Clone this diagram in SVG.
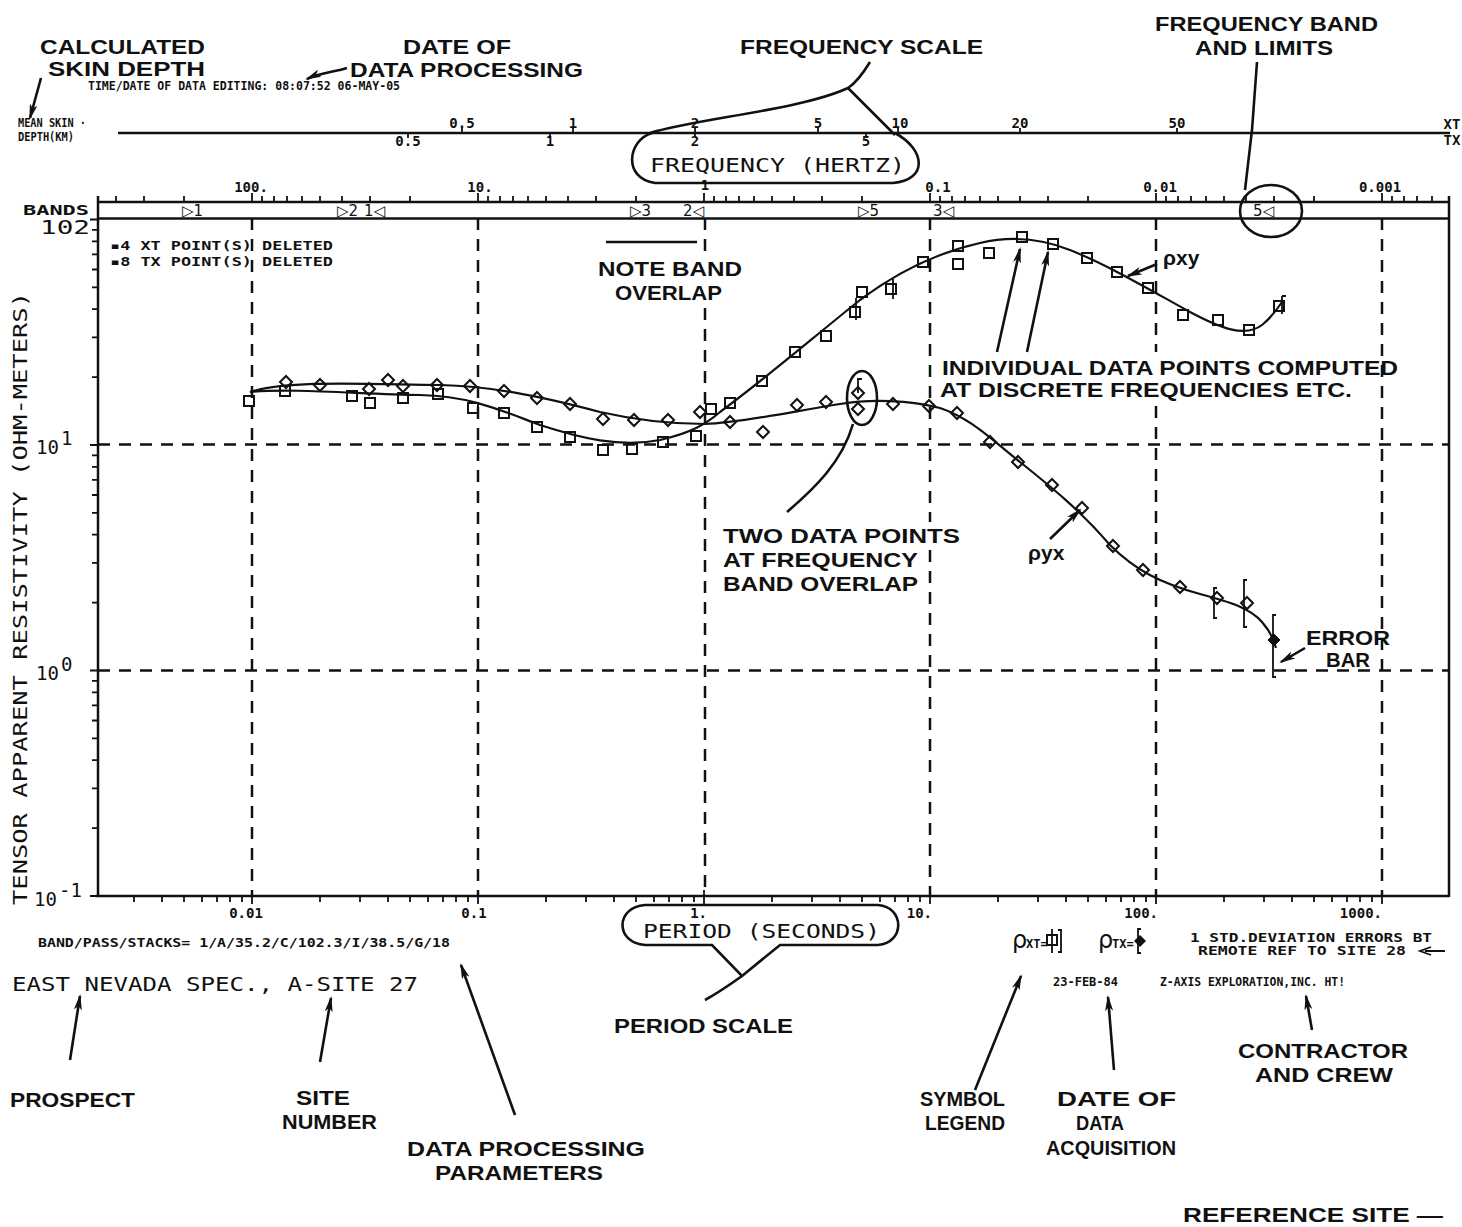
<svg xmlns="http://www.w3.org/2000/svg" width="1462" height="1227" viewBox="0 0 1462 1227">
<style>
.lbl{font-family:"Liberation Sans",Arial,sans-serif;font-weight:bold;font-size:21px;fill:#111}
.plt{font-family:"DejaVu Sans Mono","Liberation Mono",monospace;font-size:19px;fill:#111}
.num{font-family:"DejaVu Sans Mono","Liberation Mono",monospace;font-size:14px;font-weight:bold;fill:#111}
.sm{font-family:"DejaVu Sans Mono","Liberation Mono",monospace;font-size:12px;font-weight:bold;fill:#111}
.axis{stroke:#111;stroke-width:2.5;fill:none}
.tick{stroke:#111;stroke-width:1.8;fill:none}
.grid{stroke:#111;stroke-width:2.5;stroke-dasharray:12 9;fill:none}
.curve{stroke:#111;stroke-width:2.2;fill:none}
.ptr{stroke:#111;stroke-width:2.6;fill:none}
.pt{stroke:#111;stroke-width:2;fill:none}
.mk{font-family:"DejaVu Sans",sans-serif;font-size:15px;fill:#111}
</style>
<defs>
<marker id="ah" markerUnits="userSpaceOnUse" markerWidth="16" markerHeight="8" refX="14" refY="4" orient="auto">
<path d="M0,0 L16,4 L0,8 L4,4 z" fill="#111"/>
</marker>
<rect id="sq" x="-5" y="-5" width="10" height="10"/>
<path id="dm" d="M0,-6 L6,0 L0,6 L-6,0 z"/>
</defs>
<rect width="1462" height="1227" fill="#fff"/>

<g id="frame">
<line class="axis" x1="118" y1="133" x2="1450" y2="133"/>
<line class="axis" x1="98" y1="202" x2="1449" y2="202"/>
<line class="axis" x1="98" y1="218.5" x2="1449" y2="218.5" stroke-width="3"/>
<line class="axis" x1="98" y1="196" x2="98" y2="897"/>
<line class="axis" x1="1449" y1="196" x2="1449" y2="897"/>
<line class="axis" x1="96" y1="896" x2="1449" y2="896"/>
<path class="tick" d="M90,219.5h8M92,229.8h6M92,241.4h6M92,254.4h6M92,269.5h6M92,287.4h6M92,309.2h6M92,337.4h6M92,377.1h6
M90,445h8M92,455.3h6M92,466.9h6M92,479.9h6M92,495h6M92,512.9h6M92,534.7h6M92,562.9h6M92,602.6h6
M90,670.5h8M92,680.8h6M92,692.4h6M92,705.4h6M92,720.5h6M92,738.4h6M92,760.2h6M92,788.4h6M92,828.1h6M90,896h8"/>
<path class="tick" d="M134,896v6M162,896v6M184,896v6M202,896v6M217,896v6M230,896v6M242,896v6M252,890v14
M320,896v6M360,896v6M388,896v6M410,896v6M428,896v6M443,896v6M456,896v6M468,896v6M478,890v14
M546,896v6M586,896v6M614,896v6M636,896v6M654,896v6M669,896v6M682,896v6M694,896v6M704,890v14
M772,896v6M812,896v6M840,896v6M862,896v6M880,896v6M895,896v6M908,896v6M920,896v6M930,890v14
M998,896v6M1038,896v6M1066,896v6M1088,896v6M1106,896v6M1121,896v6M1134,896v6M1146,896v6M1156,890v14
M1224,896v6M1264,896v6M1292,896v6M1314,896v6M1332,896v6M1347,896v6M1360,896v6M1372,896v6M1382,890v14"/>
<path class="tick" d="M116,202v-6M144,202v-6M184,202v-6M252,202v-9
M262,202v-6M274,202v-6M287,202v-6M302,202v-6M320,202v-6M342,202v-6M370,202v-6M410,202v-6M478,202v-9
M488,202v-6M500,202v-6M513,202v-6M528,202v-6M546,202v-6M568,202v-6M596,202v-6M636,202v-6M704,202v-9
M714,202v-6M726,202v-6M739,202v-6M754,202v-6M772,202v-6M794,202v-6M822,202v-6M862,202v-6M930,202v-9
M940,202v-6M952,202v-6M965,202v-6M980,202v-6M998,202v-6M1020,202v-6M1048,202v-6M1088,202v-6M1156,202v-9
M1166,202v-6M1178,202v-6M1191,202v-6M1206,202v-6M1224,202v-6M1246,202v-6M1274,202v-6M1314,202v-6M1382,202v-9
M1392,202v-6M1404,202v-6M1417,202v-6M1432,202v-6"/>
<path class="tick" d="M462,133v-5M573,133v-5M695,133v-5M818,133v-5M898,133v-5M1020,133v-5M1177,133v-5M408,133v5M550,133v5M695,133v5M866,133v5"/>
</g>

<g id="grid">
<path class="grid" d="M252,218V896M478,218V896M705,218V255M705,308V896M930,218V522M930,550V896M1156,218V352M1156,406V896M1382,218V896"/>
<path class="grid" d="M98,444.5H1449M98,670.5H1449"/>
</g>

<g id="axis-labels">
<text class="sm" x="18" y="127" font-size="8" textLength="68" lengthAdjust="spacingAndGlyphs">MEAN SKIN ·</text>
<text class="sm" x="18" y="141" font-size="8" textLength="56" lengthAdjust="spacingAndGlyphs">DEPTH(KM)</text>
<text class="num" x="462" y="128" text-anchor="middle" font-size="12">0.5</text>
<text class="num" x="573" y="128" text-anchor="middle" font-size="12">1</text>
<text class="num" x="695" y="128" text-anchor="middle" font-size="12">2</text>
<text class="num" x="818" y="128" text-anchor="middle" font-size="12">5</text>
<text class="num" x="900" y="128" text-anchor="middle" font-size="12">10</text>
<text class="num" x="1020" y="128" text-anchor="middle" font-size="12">20</text>
<text class="num" x="1177" y="128" text-anchor="middle" font-size="12">50</text>
<text class="num" x="1452" y="129" text-anchor="middle" font-size="10">XT</text>
<text class="num" x="408" y="146" text-anchor="middle" font-size="12">0.5</text>
<text class="num" x="550" y="146" text-anchor="middle" font-size="12">1</text>
<text class="num" x="695" y="146" text-anchor="middle" font-size="12">2</text>
<text class="num" x="866" y="146" text-anchor="middle" font-size="12">5</text>
<text class="num" x="1452" y="145" text-anchor="middle" font-size="10">TX</text>

<text class="num" x="251" y="192" text-anchor="middle">100.</text>
<text class="num" x="480" y="192" text-anchor="middle">10.</text>
<text class="num" x="705" y="190" text-anchor="middle">1</text>
<text class="num" x="938" y="192" text-anchor="middle">0.1</text>
<text class="num" x="1160" y="192" text-anchor="middle">0.01</text>
<text class="num" x="1380" y="192" text-anchor="middle">0.001</text>

<text class="num" x="23" y="215" font-size="14" textLength="66" lengthAdjust="spacingAndGlyphs">BANDS</text>
<text class="plt" x="40" y="234" font-size="19" textLength="50" lengthAdjust="spacingAndGlyphs">102</text>
<text class="plt" x="36" y="454" font-size="20">10</text><text class="plt" x="61" y="445" font-size="13">1</text>
<text class="plt" x="36" y="680" font-size="20">10</text><text class="plt" x="61" y="671" font-size="13">0</text>
<text class="plt" x="34" y="906" font-size="20">10</text><text class="plt" x="59" y="897" font-size="13">-1</text>

<text class="num" x="246" y="918" text-anchor="middle">0.01</text>
<text class="num" x="474" y="918" text-anchor="middle">0.1</text>
<text class="num" x="707" y="918" text-anchor="end">1.</text>
<text class="num" x="932" y="918" text-anchor="end">10.</text>
<text class="num" x="1158" y="918" text-anchor="end">100.</text>
<text class="num" x="1382" y="918" text-anchor="end">1000.</text>

<text class="plt" transform="translate(27,905) rotate(-90)" textLength="613" lengthAdjust="spacingAndGlyphs">TENSOR APPARENT RESISTIVITY (OHM-METERS)</text>
</g>

<g id="bands">
<text class="mk" x="182" y="216">▷1</text>
<text class="mk" x="337" y="216">▷2</text>
<text class="mk" x="364" y="216">1◁</text>
<text class="mk" x="630" y="216">▷3</text>
<text class="mk" x="683" y="216">2◁</text>
<text class="mk" x="858" y="216">▷5</text>
<text class="mk" x="933" y="216">3◁</text>
<text class="mk" x="1253" y="216">5◁</text>
</g>

<g id="deleted-legend">
<text class="sm" x="110" y="250" textLength="223" lengthAdjust="spacingAndGlyphs">▪4  XT POINT(S) DELETED</text>
<text class="sm" x="110" y="266" textLength="223" lengthAdjust="spacingAndGlyphs">▪8  TX POINT(S) DELETED</text>
</g>

<g id="rho-xy-curve">
<path class="curve" d="M250,392 C290,388 360,394 420,395 C470,396 500,410 540,425 C580,438 620,448 660,440 C690,433 705,425 720,412 C770,375 810,340 860,300 C900,270 940,252 980,243 C1010,236 1040,238 1070,250 C1110,266 1150,290 1190,312 C1220,328 1245,338 1262,325 C1272,317 1278,308 1282,302"/>
<g class="pt">
<use href="#sq" x="249" y="401"/><use href="#sq" x="285" y="391"/><use href="#sq" x="352" y="396"/><use href="#sq" x="370" y="403"/>
<use href="#sq" x="403" y="398"/><use href="#sq" x="438" y="394"/><use href="#sq" x="473" y="408"/><use href="#sq" x="504" y="413"/>
<use href="#sq" x="537" y="427"/><use href="#sq" x="570" y="437"/><use href="#sq" x="603" y="450"/><use href="#sq" x="632" y="449"/>
<use href="#sq" x="663" y="442"/><use href="#sq" x="696" y="436"/><use href="#sq" x="711" y="409"/><use href="#sq" x="730" y="403"/>
<use href="#sq" x="762" y="381"/><use href="#sq" x="795" y="352"/><use href="#sq" x="826" y="336"/><use href="#sq" x="855" y="312"/>
<use href="#sq" x="862" y="292"/><use href="#sq" x="891" y="289"/><use href="#sq" x="923" y="262"/><use href="#sq" x="958" y="246"/>
<use href="#sq" x="958" y="264"/><use href="#sq" x="989" y="253"/><use href="#sq" x="1022" y="237"/><use href="#sq" x="1053" y="244"/>
<use href="#sq" x="1087" y="258"/><use href="#sq" x="1117" y="272"/><use href="#sq" x="1148" y="288"/><use href="#sq" x="1183" y="315"/>
<use href="#sq" x="1218" y="320"/><use href="#sq" x="1249" y="330"/><use href="#sq" x="1279" y="306"/>
</g>
<path class="tick" d="M856,298v22M893,279v20M1282,296v18M1282,296h4"/>
</g>

<g id="rho-yx-curve">
<path class="curve" d="M250,392 C290,380 360,384 440,385 C490,386 540,396 600,412 C640,421 680,424 705,424 C740,423 790,412 840,404 C870,399 910,400 940,408 C970,418 990,438 1020,462 C1050,486 1080,510 1110,545 C1135,570 1160,583 1200,594 C1230,602 1250,608 1262,622 C1270,631 1274,640 1276,648"/>
<g class="pt">
<use href="#dm" x="286" y="382"/><use href="#dm" x="320" y="385"/><use href="#dm" x="369" y="389"/><use href="#dm" x="388" y="380"/>
<use href="#dm" x="403" y="386"/><use href="#dm" x="437" y="385"/><use href="#dm" x="470" y="386"/><use href="#dm" x="504" y="391"/>
<use href="#dm" x="537" y="398"/><use href="#dm" x="570" y="404"/><use href="#dm" x="603" y="419"/><use href="#dm" x="634" y="420"/>
<use href="#dm" x="668" y="420"/><use href="#dm" x="700" y="412"/><use href="#dm" x="730" y="422"/><use href="#dm" x="763" y="432"/>
<use href="#dm" x="797" y="405"/><use href="#dm" x="826" y="402"/><use href="#dm" x="858" y="393"/><use href="#dm" x="858" y="409"/>
<use href="#dm" x="893" y="404"/><use href="#dm" x="929" y="406"/><use href="#dm" x="957" y="413"/><use href="#dm" x="990" y="442"/>
<use href="#dm" x="1018" y="462"/><use href="#dm" x="1052" y="485"/><use href="#dm" x="1082" y="508"/><use href="#dm" x="1113" y="546"/>
<use href="#dm" x="1143" y="570"/><use href="#dm" x="1180" y="587"/><use href="#dm" x="1217" y="598"/><use href="#dm" x="1247" y="603"/>
</g>
<use href="#dm" x="1274" y="640" fill="#111" stroke="#111"/>
<path class="tick" d="M858,393v-14h4M1217,588h-3v30h3M1247,580h-3v47h3M1276,615h-3v62h3"/>
</g>

<g id="calculated-skin-depth"><text class="lbl" x="40" y="54" textLength="165" lengthAdjust="spacingAndGlyphs">CALCULATED</text><text class="lbl" x="48" y="76" textLength="157" lengthAdjust="spacingAndGlyphs">SKIN DEPTH</text></g>
<g id="date-of-processing"><text class="lbl" x="403" y="54" textLength="108" lengthAdjust="spacingAndGlyphs">DATE OF</text><text class="lbl" x="350" y="77" textLength="233" lengthAdjust="spacingAndGlyphs">DATA PROCESSING</text>
<text class="sm" x="88" y="90" font-size="11" textLength="312" lengthAdjust="spacingAndGlyphs">TIME/DATE OF DATA EDITING: 08:07:52 06-MAY-05</text></g>
<g id="frequency-scale"><text class="lbl" x="740" y="54" textLength="243" lengthAdjust="spacingAndGlyphs">FREQUENCY SCALE</text></g>
<g id="frequency-band"><text class="lbl" x="1155" y="31" textLength="223" lengthAdjust="spacingAndGlyphs">FREQUENCY BAND</text><text class="lbl" x="1195" y="55" textLength="138" lengthAdjust="spacingAndGlyphs">AND LIMITS</text></g>
<g id="frequency-hertz">
<path class="ptr" d="M652,133 C628,140 622,178 655,183 L893,183 C928,180 926,150 895,133"/>
<text class="plt" x="650" y="172" textLength="255" lengthAdjust="spacingAndGlyphs">FREQUENCY  (HERTZ)</text>
</g>
<g id="band-circle"><ellipse class="ptr" cx="1271" cy="211" rx="31" ry="26"/></g>
<g id="note-band-overlap"><text class="lbl" x="598" y="276" textLength="144" lengthAdjust="spacingAndGlyphs">NOTE BAND</text><text class="lbl" x="615" y="300" textLength="107" lengthAdjust="spacingAndGlyphs">OVERLAP</text>
<line class="ptr" x1="606" y1="242" x2="697" y2="242"/></g>
<g id="individual-points"><text class="lbl" x="942" y="375" textLength="456" lengthAdjust="spacingAndGlyphs">INDIVIDUAL DATA POINTS COMPUTED</text><text class="lbl" x="940" y="397" textLength="412" lengthAdjust="spacingAndGlyphs">AT DISCRETE FREQUENCIES ETC.</text></g>
<g id="rho-xy-label"><text class="lbl" x="1163" y="265">ρxy</text></g>
<g id="rho-yx-label"><text class="lbl" x="1028" y="560">ρyx</text></g>
<g id="two-points"><ellipse class="ptr" cx="862" cy="398" rx="15" ry="27"/>
<text class="lbl" x="723" y="543" textLength="237" lengthAdjust="spacingAndGlyphs">TWO DATA POINTS</text><text class="lbl" x="723" y="567" textLength="195" lengthAdjust="spacingAndGlyphs">AT FREQUENCY</text><text class="lbl" x="723" y="591" textLength="195" lengthAdjust="spacingAndGlyphs">BAND OVERLAP</text></g>
<g id="error-bar"><text class="lbl" x="1306" y="645" textLength="84" lengthAdjust="spacingAndGlyphs">ERROR</text><text class="lbl" x="1326" y="667" textLength="44" lengthAdjust="spacingAndGlyphs">BAR</text></g>

<g id="period-seconds">
<path class="ptr" d="M645,905 L878,905 C905,907 905,943 878,945 L780,945 L742,976 L712,945 L645,945 C615,943 615,907 645,905 Z"/>
<text class="plt" x="643" y="938" textLength="237" lengthAdjust="spacingAndGlyphs">PERIOD   (SECONDS)</text>
</g>
<g id="period-scale"><text class="lbl" x="614" y="1033" textLength="179" lengthAdjust="spacingAndGlyphs">PERIOD SCALE</text></g>

<g id="parameters-line"><text class="sm" x="38" y="947" textLength="412" lengthAdjust="spacingAndGlyphs">BAND/PASS/STACKS= 1/A/35.2/C/102.3/I/38.5/G/18</text></g>
<g id="site-line"><text class="plt" x="12" y="991" font-size="21" textLength="406" lengthAdjust="spacingAndGlyphs">EAST NEVADA SPEC., A-SITE 27</text></g>
<g id="prospect"><text class="lbl" x="10" y="1107" textLength="125" lengthAdjust="spacingAndGlyphs">PROSPECT</text></g>
<g id="site-number"><text class="lbl" x="296" y="1105" textLength="54" lengthAdjust="spacingAndGlyphs">SITE</text><text class="lbl" x="282" y="1129" textLength="95" lengthAdjust="spacingAndGlyphs">NUMBER</text></g>
<g id="data-processing-parameters"><text class="lbl" x="407" y="1156" textLength="238" lengthAdjust="spacingAndGlyphs">DATA PROCESSING</text><text class="lbl" x="435" y="1180" textLength="168" lengthAdjust="spacingAndGlyphs">PARAMETERS</text></g>

<g id="symbol-legend-block">
<text x="1012" y="948" font-family="DejaVu Sans,sans-serif" font-size="24" fill="#111">ρ</text>
<text class="sm" x="1026" y="948" font-size="10">XT=</text>
<rect class="pt" x="1047" y="935" width="10" height="10"/>
<path class="tick" d="M1052,929v24M1058,930h3v22h-3"/>
<text x="1098" y="948" font-family="DejaVu Sans,sans-serif" font-size="24" fill="#111">ρ</text>
<text class="sm" x="1112" y="948" font-size="10">TX=</text>
<path d="M1140,935 L1146,941 L1140,947 L1134,941 z" fill="#111"/>
<path class="tick" d="M1141,929h-3v24h3"/>
<text class="sm" x="1190" y="942" font-size="10.5" textLength="242" lengthAdjust="spacingAndGlyphs">1 STD.DEVIATION ERRORS BT</text>
<text class="sm" x="1198" y="955" font-size="10.5" textLength="208" lengthAdjust="spacingAndGlyphs">REMOTE REF TO SITE 28</text>
<text class="sm" x="1053" y="986" textLength="65" lengthAdjust="spacingAndGlyphs">23-FEB-84</text>
<text class="sm" x="1160" y="986" textLength="185" lengthAdjust="spacingAndGlyphs">Z-AXIS EXPLORATION,INC. HT!</text>
</g>
<g id="symbol-legend"><text class="lbl" x="920" y="1106" textLength="85" lengthAdjust="spacingAndGlyphs">SYMBOL</text><text class="lbl" x="925" y="1130" textLength="80" lengthAdjust="spacingAndGlyphs">LEGEND</text></g>
<g id="date-of-acquisition"><text class="lbl" x="1057" y="1106" textLength="119" lengthAdjust="spacingAndGlyphs">DATE OF</text><text class="lbl" x="1076" y="1130" textLength="48" lengthAdjust="spacingAndGlyphs">DATA</text><text class="lbl" x="1046" y="1155" textLength="130" lengthAdjust="spacingAndGlyphs">ACQUISITION</text></g>
<g id="contractor"><text class="lbl" x="1238" y="1058" textLength="170" lengthAdjust="spacingAndGlyphs">CONTRACTOR</text><text class="lbl" x="1255" y="1082" textLength="138" lengthAdjust="spacingAndGlyphs">AND CREW</text></g>
<g id="reference-site"><text class="lbl" x="1183" y="1222" textLength="260" lengthAdjust="spacingAndGlyphs">REFERENCE SITE —</text></g>

<g id="connectors">
<line class="ptr" x1="41" y1="78" x2="30" y2="118" marker-end="url(#ah)"/>
<path class="ptr" d="M347,68 C335,72 322,72 307,79" marker-end="url(#ah)"/>
<path class="ptr" d="M870,62 C862,75 856,83 848,88 C800,110 700,118 650,133 M848,88 L895,135"/>
<path class="ptr" d="M1257,62 L1252,130 L1245,190"/>
<line class="ptr" x1="1157" y1="264" x2="1128" y2="276" marker-end="url(#ah)"/>
<line class="ptr" x1="1050" y1="539" x2="1080" y2="510" marker-end="url(#ah)"/>
<line class="ptr" x1="997" y1="352" x2="1020" y2="249" marker-end="url(#ah)"/>
<line class="ptr" x1="1027" y1="352" x2="1048" y2="252" marker-end="url(#ah)"/>
<path class="ptr" d="M853,424 C842,462 815,488 787,512"/>
<line class="ptr" x1="1305" y1="648" x2="1281" y2="662" marker-end="url(#ah)"/>
<path class="ptr" d="M742,976 C728,986 716,994 705,1000"/>
<line class="ptr" x1="70" y1="1060" x2="80" y2="996" marker-end="url(#ah)"/>
<line class="ptr" x1="320" y1="1062" x2="331" y2="998" marker-end="url(#ah)"/>
<line class="ptr" x1="515" y1="1115" x2="461" y2="965" marker-end="url(#ah)"/>
<line class="ptr" x1="975" y1="1090" x2="1021" y2="976" marker-end="url(#ah)"/>
<line class="ptr" x1="1114" y1="1070" x2="1108" y2="997" marker-end="url(#ah)"/>
<line class="ptr" x1="1312" y1="1030" x2="1306" y2="996" marker-end="url(#ah)"/>
<path class="tick" d="M1445,951 L1425,951 M1431,947 L1420,951 L1431,955"/>
</g>
</svg>
